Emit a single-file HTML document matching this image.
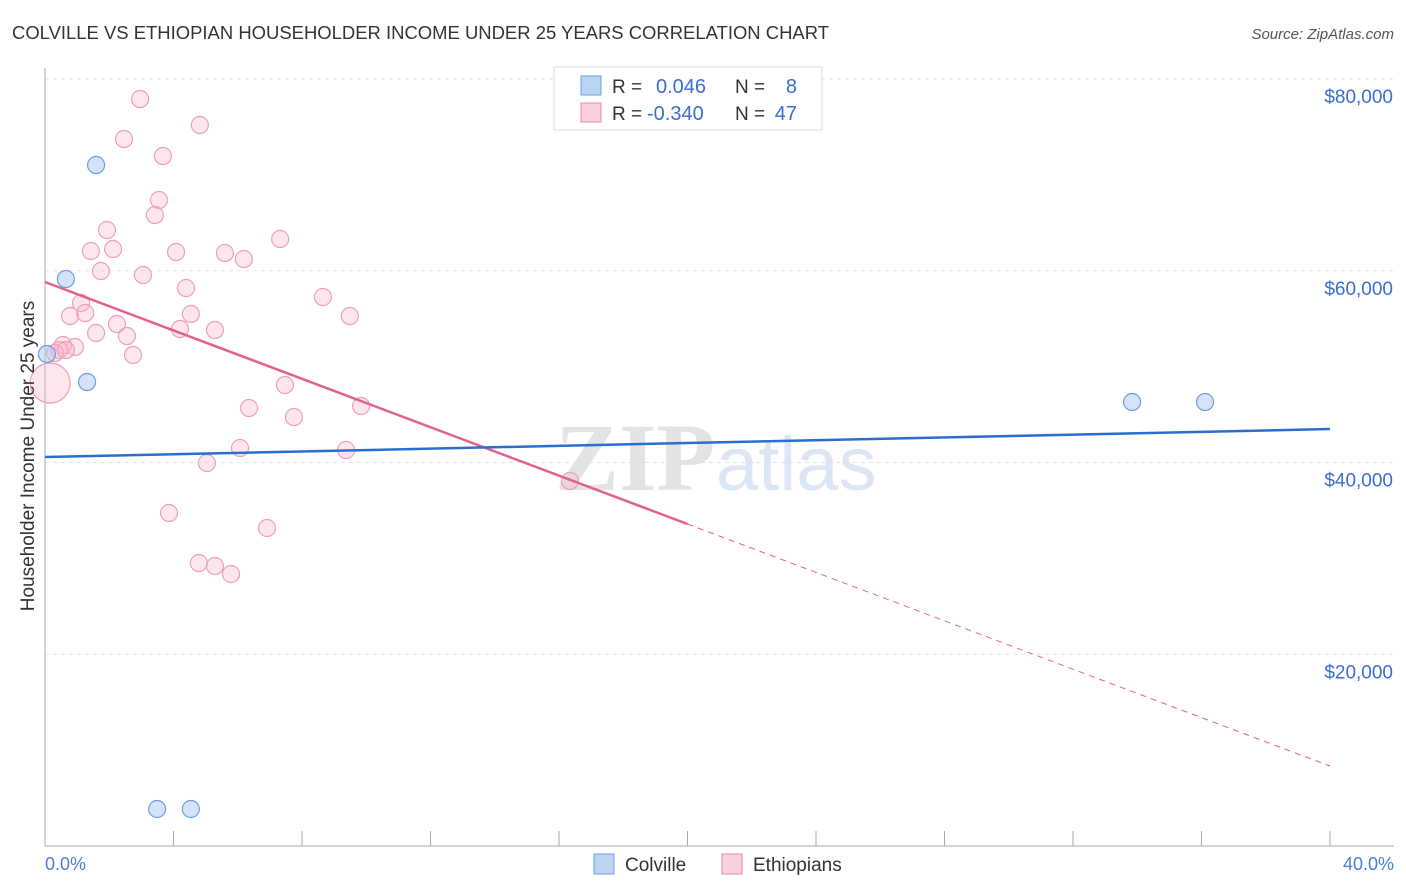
<!DOCTYPE html>
<html><head><meta charset="utf-8"><style>
body{margin:0;background:#fff;font-family:"Liberation Sans",sans-serif;}
svg{display:block}
</style></head><body>
<svg id="chart" width="1406" height="892">
<text x="12" y="39" font-size="18" fill="#333" textLength="817" lengthAdjust="spacingAndGlyphs">COLVILLE VS ETHIOPIAN HOUSEHOLDER INCOME UNDER 25 YEARS CORRELATION CHART</text>
<text x="1394" y="39" font-size="15" fill="#555" text-anchor="end" font-style="italic">Source: ZipAtlas.com</text>
<g><text x="555" y="490" font-size="96" fill="#e4e4e4" font-family="Liberation Serif,serif" font-weight="bold">ZIP</text><text x="716" y="490" font-size="76" fill="#dce6f4">atlas</text></g>
<g id="grid"></g>
<g id="axes"></g>
<g id="marks"></g>
<text transform="translate(34,456) rotate(-90)" font-size="19" fill="#333" text-anchor="middle">Householder Income Under 25 years</text>
<text x="45" y="870" font-size="18" fill="#4a7fd4">0.0%</text>
<text x="1394" y="870" font-size="18" fill="#4a7fd4" text-anchor="end">40.0%</text>
<g>
<rect x="554" y="67" width="268" height="63" fill="#fff" stroke="#ddd"/>
<rect x="581" y="76" width="20" height="19" fill="#bcd4f4" stroke="#6a9fde"/>
<rect x="581" y="103" width="20" height="19" fill="#fbd0dd" stroke="#e88aa8"/>
<text x="612" y="93" font-size="19" fill="#333">R = </text><text x="656" y="93" font-size="20" fill="#3a6fd0">0.046</text>
<text x="735" y="93" font-size="19" fill="#333">N = </text><text x="797" y="93" font-size="20" fill="#3a6fd0" text-anchor="end">8</text>
<text x="612" y="120" font-size="19" fill="#333">R = </text><text x="647" y="120" font-size="20" fill="#3a6fd0">-0.340</text>
<text x="735" y="120" font-size="19" fill="#333">N = </text><text x="797" y="120" font-size="20" fill="#3a6fd0" text-anchor="end">47</text>
</g>
<g>
<rect x="594" y="854" width="20" height="20" fill="#bcd4f4" stroke="#6a9fde"/>
<text x="625" y="871" font-size="19" fill="#333">Colville</text>
<rect x="722" y="854" width="20" height="20" fill="#fbd0dd" stroke="#e88aa8"/>
<text x="753" y="871" font-size="19" fill="#333">Ethiopians</text>
</g>
</svg>
<script>
const yTicks=[20000,40000,60000,80000];
const yTickLabels=["$20,000","$40,000","$60,000","$80,000"];
const xTicks=[4,8,12,16,20,24,28,32,36,40];
const colvilleX=[1.59,0.65,1.31,0.06,33.84,36.11,3.49,4.54];
const colvilleY=[71028,59139,48395,51316,46309,46309,3859,3859];
const ethX=[2.96,4.82,2.46,3.67,3.55,3.42,1.93,1.43,2.12,4.08,5.60,6.19,7.32,1.74,3.05,4.39,8.65,1.12,0.78,1.25,4.54,9.49,2.24,4.20,5.29,1.59,2.55,0.93,0.56,0.44,0.31,2.74,7.47,6.35,7.75,9.84,6.07,9.37,5.04,16.34,3.86,6.91,4.79,5.29,5.79,0.16,0.65];
const ethY=[77913,75201,73740,71967,67378,65813,64249,62059,62267,61954,61850,61224,63310,59973,59556,58200,57261,56635,55279,55592,55488,55279,54445,53923,53819,53506,53193,52046,52254,51733,51420,51212,48083,45684,44745,45892,41511,41303,39947,38070,34732,33168,29517,29204,28370,48291,51733];
const colvilleLine=[40570,43490];
const ethLine=[58825,8344];
const ethSolidEnd=20;
const X=v=>45+v/40*1285;
const Y=v=>846-v/20000*191.75;
const NS="http://www.w3.org/2000/svg";
function mk(tag,attrs,parent){const e=document.createElementNS(NS,tag);for(const k in attrs)e.setAttribute(k,attrs[k]);document.getElementById(parent).appendChild(e);return e;}
yTicks.forEach((t,i)=>{
 const l=mk('line',{x1:45,x2:1394,y1:Y(t),y2:Y(t),stroke:'#e2e2e2','stroke-dasharray':'4,4'},'grid');
 
 
 const tx=mk('text',{x:1393,y:Y(t)+24,'font-size':19,fill:'#3a6fd0','text-anchor':'end'},'grid');
 tx.textContent=yTickLabels[i];
 
 
});
let a=mk('line',{x1:45,x2:45,y1:68,y2:846,stroke:'#aaa'},'axes');


a=mk('line',{x1:45,x2:1394,y1:846,y2:846,stroke:'#aaa'},'axes');


xTicks.forEach(t=>{
 const l=mk('line',{x1:X(t),x2:X(t),y1:831,y2:846,stroke:'#aaa'},'axes');
 
 
});
ethX.forEach((x,i)=>{
 const r=(i===45)?20:8.5;
 const c=mk('circle',{cx:X(x),cy:Y(ethY[i]),r:r,fill:'rgba(248,182,204,0.35)',stroke:'#eca0ba','stroke-width':1.2},'marks');
 
 
});
colvilleX.forEach((x,i)=>{
 const c=mk('circle',{cx:X(x),cy:Y(colvilleY[i]),r:8.5,fill:'rgba(170,200,242,0.5)',stroke:'#6a9fde','stroke-width':1.2},'marks');
 
 
});
const ey=x=>ethLine[0]+(ethLine[1]-ethLine[0])*x/40;
let ln=mk('line',{x1:X(0),y1:Y(ethLine[0]),x2:X(ethSolidEnd),y2:Y(ey(ethSolidEnd)),stroke:'#e4608c','stroke-width':2.5},'marks');


ln=mk('line',{x1:X(ethSolidEnd),y1:Y(ey(ethSolidEnd)),x2:X(40),y2:Y(ethLine[1]),stroke:'#e4608c','stroke-width':1,'stroke-dasharray':'6,5'},'marks');


ln=mk('line',{x1:X(0),y1:Y(colvilleLine[0]),x2:X(40),y2:Y(colvilleLine[1]),stroke:'#2a6fd0','stroke-width':2.5},'marks');


</script>
</body></html>
